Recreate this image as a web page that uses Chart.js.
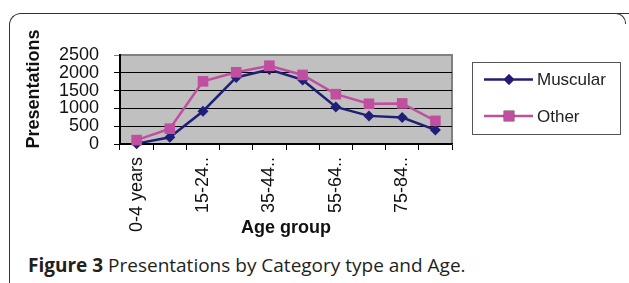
<!DOCTYPE html>
<html>
<head>
<meta charset="utf-8">
<script src="https://cdn.jsdelivr.net/npm/chart.js@4"></script>
<style>
  body { margin: 0; background: #fff; width: 629px; height: 283px; overflow: hidden; position: relative; }
  #frame { position: absolute; left: 9px; top: 13px; width: 700px; height: 300px;
    border-top: 1.5px solid #333; border-left: 1.5px solid #333; border-top-left-radius: 12px; }
  #corner { position: absolute; left: 605px; top: 13px; width: 20px; height: 10px;
    border-top: 1.5px solid #333; border-right: 1.5px solid #333; border-top-right-radius: 10px; }
  #chartBox { position: absolute; left: 0; top: 0; }
  #caption { position: absolute; left: 28px; top: 252px; font-family: "Open Sans", sans-serif;
    font-size: 19px; line-height: normal; color: #231f20; white-space: nowrap; }
</style>
</head>
<body>
<div id="frame"></div>
<div id="corner"></div>
<canvas id="chartBox" width="629" height="250"></canvas>
<div id="caption"><b>Figure 3</b> Presentations by Category type and Age.</div>
<script>
// data kategori umur
const categories = ["0-4 years", "5-14 years", "15-24 years", "25-34 years", "35-44 years",
  "45-54 years", "55-64 years", "65-74 years", "75-84 years", "85+ years"];
// label yang tampil di sumbu x (yang lain kosong)
const tickLabels = ["0-4 years", "", "15-24..", "", "35-44..", "", "55-64..", "", "75-84..", ""];
const yTicks = [0, 500, 1000, 1500, 2000, 2500];
const muscular = [10, 190, 920, 1870, 2090, 1800, 1040, 790, 745, 395];
const other = [110, 430, 1760, 2015, 2200, 1940, 1400, 1130, 1140, 650];

const fontFamily = '"Liberation Sans", Arial, sans-serif';

// latar plot abu-abu
const plotBg = {
  id: "plotBg",
  beforeDraw(chart) {
    const { ctx, chartArea: a } = chart;
    ctx.save();
    ctx.fillStyle = "#C0C0C0";
    ctx.fillRect(a.left, a.top, a.right - a.left, a.bottom - a.top);
    ctx.strokeStyle = "#808080";
    ctx.lineWidth = 2;
    ctx.beginPath();
    ctx.moveTo(a.left, a.top);
    ctx.lineTo(a.right, a.top);
    ctx.lineTo(a.right, a.bottom);
    ctx.stroke();
    ctx.restore();
  },
};

// judul sumbu y + legenda kotak
const extras = {
  id: "extras",
  afterDraw(chart) {
    const { ctx } = chart;
    ctx.save();
    ctx.fillStyle = "#111";
    ctx.font = "bold 18px " + fontFamily;
    ctx.textAlign = "center";
    ctx.textBaseline = "middle";
    ctx.translate(34.5, 89);
    ctx.rotate(-Math.PI / 2);
    ctx.fillText("Presentations", 0, 0);
    ctx.restore();

    ctx.save();
    ctx.strokeStyle = "#555";
    ctx.lineWidth = 1;
    ctx.strokeRect(472.5, 62.5, 148, 72);
    const rows = [79.5, 116];
    chart.data.datasets.forEach((ds, i) => {
      const y = rows[i];
      ctx.strokeStyle = ds.borderColor;
      ctx.lineWidth = ds.borderWidth;
      ctx.beginPath();
      ctx.moveTo(484, y);
      ctx.lineTo(533, y);
      ctx.stroke();
      Chart.helpers.drawPoint(ctx, {
        pointStyle: ds.pointStyle,
        radius: ds.pointRadius,
        borderWidth: 0,
      }, 509, y);
      ctx.fillStyle = ds.backgroundColor;
      ctx.fill();
      ctx.fillStyle = "#222";
      ctx.font = "17px " + fontFamily;
      ctx.textAlign = "left";
      ctx.textBaseline = "middle";
      ctx.fillText(ds.label, 537, y + 1);
    });
    ctx.restore();
  },
};

new Chart(document.getElementById("chartBox").getContext("2d"), {
  type: "line",
  data: {
    labels: categories,
    datasets: [
      {
        label: "Muscular",
        data: muscular,
        borderColor: "#1F1F78",
        backgroundColor: "#1F1F78",
        borderWidth: 2.5,
        pointStyle: "rectRot",
        pointRadius: 5.5,
        pointBorderWidth: 0,
        tension: 0,
        clip: false,
        order: 2,
      },
      {
        label: "Other",
        data: other,
        borderColor: "#C0509F",
        backgroundColor: "#C0509F",
        borderWidth: 2.5,
        pointStyle: "rect",
        pointRadius: 7.5,
        pointBorderWidth: 0,
        tension: 0,
        clip: false,
        order: 1,
      },
    ],
  },
  options: {
    responsive: false,
    animation: false,
    layout: { padding: { left: 0, top: 55, right: 177, bottom: 0 } },
    plugins: {
      legend: { display: false },
      tooltip: { enabled: false },
    },
    scales: {
      x: {
        offset: true,
        afterFit(scale) { scale.height = 106; },
        grid: { offset: true, drawOnChartArea: false, drawTicks: true, tickLength: 6, color: "#000" },
        border: { color: "#000", width: 1.5 },
        ticks: {
          autoSkip: false,
          maxRotation: 90,
          minRotation: 90,
          padding: 7,
          color: "#111",
          font: { family: fontFamily, size: 18 },
          callback: (v, i) => tickLabels[i],
        },
        title: {
          display: true,
          text: "Age group",
          color: "#111",
          font: { family: fontFamily, size: 18, weight: "bold" },
          padding: { top: 0, bottom: 11 },
        },
      },
      y: {
        min: yTicks[0],
        max: yTicks[yTicks.length - 1],
        afterFit(scale) { scale.width = 120; },
        afterBuildTicks(scale) { scale.ticks = yTicks.map((v) => ({ value: v })); },
        grid: {
          color: (c) => (c.tick && c.tick.value === 2500 ? "#808080" : "#000"),
          lineWidth: 1,
          tickLength: 6,
        },
        border: { color: "#000", width: 2 },
        ticks: {
          autoSkip: false,
          padding: 15,
          color: "#111",
          font: { family: fontFamily, size: 18 },
          callback: (v) => String(v),
        },
      },
    },
  },
  plugins: [plotBg, extras],
});
</script>
</body>
</html>
